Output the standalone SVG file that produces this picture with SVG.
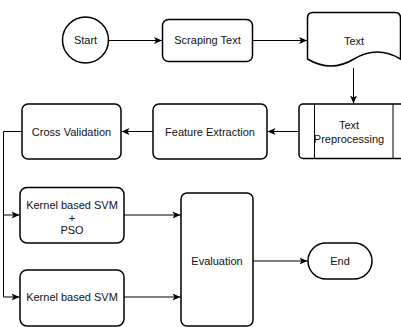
<svg xmlns="http://www.w3.org/2000/svg" width="401" height="327" viewBox="0 0 401 327">
<style>
.s{fill:#fff;stroke:#000;stroke-width:1.5}
.c{fill:none;stroke:#000;stroke-width:1}
text{font-family:"Liberation Sans",Arial,sans-serif;font-size:11px;fill:#111;text-anchor:middle}
</style>
<defs>
<marker id="a" markerUnits="userSpaceOnUse" markerWidth="9" markerHeight="8" refX="8" refY="4" orient="auto">
<path d="M0,0.5 L8,4 L0,7.5 L2,4 z" fill="#000"/>
</marker>
</defs>
<rect width="401" height="327" fill="#fff"/>
<g id="connectors">
<path class="c" d="M108.5,40.5 H162" marker-end="url(#a)"/>
<path class="c" d="M253,40.5 H307" marker-end="url(#a)"/>
<path class="c" d="M353.5,68 V103.5" marker-end="url(#a)"/>
<path class="c" d="M299,131.5 H267.5" marker-end="url(#a)"/>
<path class="c" d="M153,131.5 H121.5" marker-end="url(#a)"/>
<path class="c" d="M22,131.5 H3.5 V215 H19.5" marker-end="url(#a)"/>
<path class="c" d="M3.5,215 V297 H19.5" marker-end="url(#a)"/>
<path class="c" d="M124,215 H180.5" marker-end="url(#a)"/>
<path class="c" d="M124,297 H180.5" marker-end="url(#a)"/>
<path class="c" d="M253,261 H307.5" marker-end="url(#a)"/>
</g>
<g id="start">
<circle class="s" cx="85.5" cy="40" r="23"/>
<text x="85.5" y="44">Start</text>
</g>
<g id="scraping">
<rect class="s" x="162.5" y="19.5" width="90" height="42" rx="6"/>
<text x="207.5" y="44">Scraping Text</text>
</g>
<g id="textdoc">
<path class="s" d="M307.5,18 Q307.5,12.5 313,12.5 H395 Q400.5,12.5 400.5,18 V59 Q377,45 354,59 Q331,73 307.5,59 Z"/>
<text x="354" y="45">Text</text>
</g>
<g id="preprocessing">
<rect class="s" x="299" y="104" width="112" height="54.5" rx="4"/>
<line x1="314.5" y1="104" x2="314.5" y2="158.5" stroke="#000" stroke-width="1"/>
<line x1="393" y1="104" x2="393" y2="158.5" stroke="#000" stroke-width="1"/>
<text x="349" y="129">Text</text>
<text x="349" y="143">Preprocessing</text>
</g>
<g id="feature">
<rect class="s" x="153" y="104" width="114" height="55" rx="6"/>
<text x="210" y="135.5">Feature Extraction</text>
</g>
<g id="crossval">
<rect class="s" x="22" y="104" width="99" height="55" rx="6"/>
<text x="71.5" y="135.5">Cross Validation</text>
</g>
<g id="svmpso">
<rect class="s" x="20" y="187.5" width="104" height="55.5" rx="7"/>
<text x="72" y="209">Kernel based SVM</text>
<text x="72" y="221.5">+</text>
<text x="72" y="234">PSO</text>
</g>
<g id="svm">
<rect class="s" x="20" y="270" width="104" height="56" rx="7"/>
<text x="72" y="301">Kernel based SVM</text>
</g>
<g id="evaluation">
<rect class="s" x="181" y="193" width="72" height="133" rx="6"/>
<text x="217" y="265">Evaluation</text>
</g>
<g id="end">
<rect class="s" x="308" y="243" width="64" height="36" rx="18"/>
<text x="340" y="265">End</text>
</g>
</svg>
